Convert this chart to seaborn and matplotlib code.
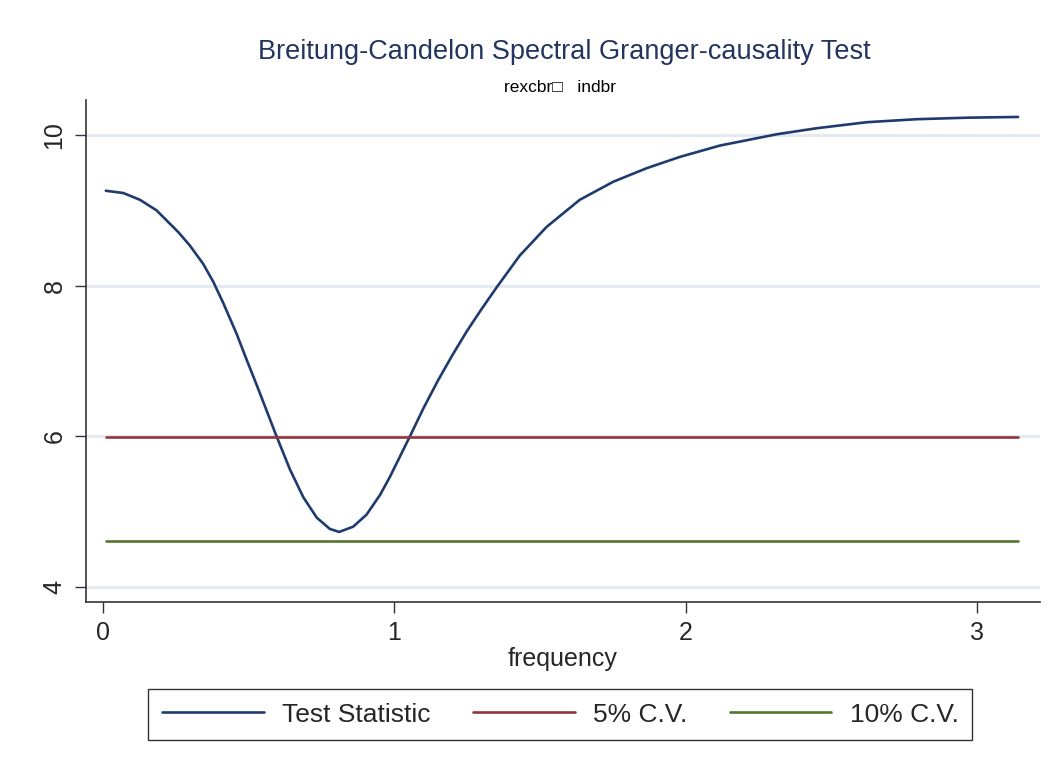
"""
Breitung-Candelon spectral Granger-causality test (rexcbr -> indbr), Stata look.
"""
import matplotlib
matplotlib.use("Agg")
import matplotlib.pyplot as plt
import numpy as np
import pandas as pd
import seaborn as sns

# frequency grid and test statistic
frequency = [0.01, 0.07, 0.127, 0.184, 0.259, 0.299, 0.344, 0.379, 0.413, 0.459,
             0.493, 0.528, 0.562, 0.596, 0.642, 0.688, 0.734, 0.779, 0.811, 0.859,
             0.905, 0.951, 0.985, 1.008, 1.054, 1.10, 1.15, 1.20, 1.25, 1.30,
             1.352, 1.431, 1.523, 1.637, 1.752, 1.867, 1.981, 2.118, 2.313, 2.45,
             2.622, 2.793, 2.965, 3.1416]
test_stat = [9.26, 9.23, 9.14, 9.00, 8.71, 8.53, 8.29, 8.05, 7.77, 7.36,
             7.02, 6.68, 6.34, 6.00, 5.56, 5.19, 4.92, 4.77, 4.73, 4.80,
             4.96, 5.22, 5.46, 5.64, 6.00, 6.37, 6.74, 7.08, 7.40, 7.69,
             7.98, 8.40, 8.78, 9.14, 9.38, 9.56, 9.71, 9.86, 10.01, 10.09,
             10.17, 10.21, 10.23, 10.24]
cv_5 = 5.99
cv_10 = 4.605

series_labels = ["Test Statistic", "5% C.V.", "10% C.V."]
series_colors = ["#1f3b6e", "#8f353b", "#55752f"]

df = pd.DataFrame({
    "frequency": frequency * 3,
    "value": test_stat + [cv_5] * len(frequency) + [cv_10] * len(frequency),
    "series": [s for s in series_labels for _ in frequency],
})

sns.set_theme(style="white")
plt.rcParams["font.family"] = ["Liberation Sans", "DejaVu Sans"]

fig = plt.figure(figsize=(10.53, 7.71), dpi=100)
ax = fig.add_axes([0.0817, 0.2192, 0.9060, 0.6511])

for y in [4, 6, 8, 10]:
    ax.axhline(y, color="#e4e8f1", linewidth=2.2, zorder=0)

sns.lineplot(data=df, x="frequency", y="value", hue="series",
             palette=dict(zip(series_labels, series_colors)),
             linewidth=1.9, ax=ax, legend=False, zorder=3)

ax.set_xlim(-0.058, 3.217)
ax.set_ylim(3.80, 10.465)
ax.set_xticks([0, 1, 2, 3])
ax.set_yticks([4, 6, 8, 10])
ax.set_xticklabels(["0", "1", "2", "3"], fontsize=18)
ax.set_yticklabels(["4", "6", "8", "10"], fontsize=18, rotation=90, va="center")
ax.tick_params(axis="both", direction="out", length=8, width=1.0,
               color="#333333", pad=6, bottom=True, left=True)
ax.set_xlabel("frequency", fontsize=18, labelpad=1)
ax.set_ylabel("")
for side in ["top", "right"]:
    ax.spines[side].set_visible(False)
for side in ["left", "bottom"]:
    ax.spines[side].set_color("#333333")
    ax.spines[side].set_linewidth(1.2)

fig.text(0.5356, 0.933, "Breitung-Candelon Spectral Granger-causality Test",
         ha="center", va="center", fontsize=19.5, color="#23355f")
fig.text(0.532, 0.886, "rexcbr\u25a1   indbr", ha="center", va="center",
         fontsize=12.5, color="black")

handles = [plt.Line2D([], [], color=c, linewidth=1.9) for c in series_colors]
leg = fig.legend(handles, series_labels, loc="center", bbox_to_anchor=(0.532, 0.0732),
                 ncol=3, fontsize=19, frameon=True, fancybox=False,
                 handlelength=3.86, handletextpad=0.7, columnspacing=1.6,
                 borderpad=0.5)
leg.get_frame().set_edgecolor("black")
leg.get_frame().set_linewidth(1.0)

fig.savefig("out.png", dpi=100)
plt.close(fig)
